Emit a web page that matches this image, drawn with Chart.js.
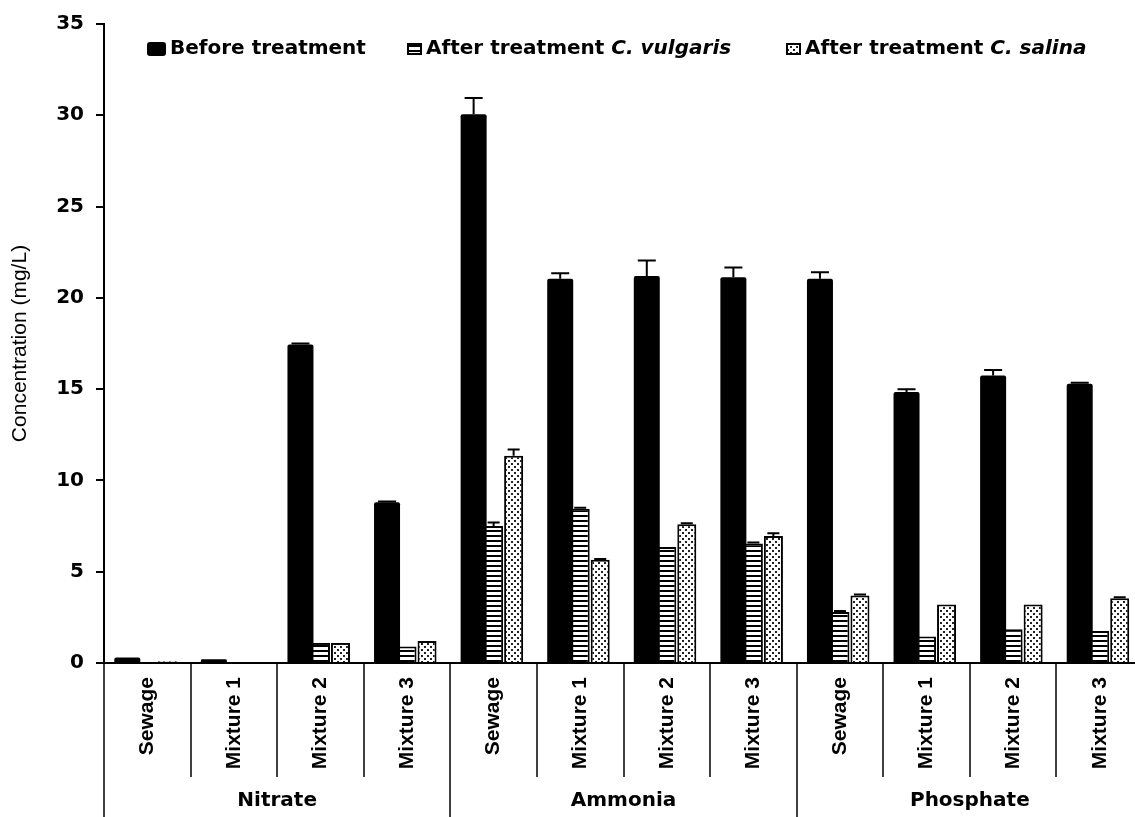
<!DOCTYPE html>
<html>
<head>
<meta charset="utf-8">
<script src="https://cdn.jsdelivr.net/npm/chart.js@4.4.1/dist/chart.umd.min.js"></script>
<style>
  html, body { margin: 0; padding: 0; background: #fff; overflow: hidden; }
  #wrap { width: 1135px; height: 817px; overflow: hidden; }
</style>
</head>
<body>
<div id="wrap"><canvas id="chart" width="1143" height="817"></canvas></div>
<script>
const categories = ['Sewage', 'Mixture 1', 'Mixture 2', 'Mixture 3',
                    'Sewage', 'Mixture 1', 'Mixture 2', 'Mixture 3',
                    'Sewage', 'Mixture 1', 'Mixture 2', 'Mixture 3'];
const groups = ['Nitrate', 'Ammonia', 'Phosphate'];

const seriesNames = ['Before treatment', 'After treatment', 'After treatment'];
const seriesSpecies = ['', 'C. vulgaris', 'C. salina'];

const before      = [0.3, 0.2, 17.45, 8.8, 30.05, 21.05, 21.2, 21.13, 21.05, 14.85, 15.75, 15.3];
const beforeErr   = [0, 0, 0.05, 0.05, 0.9, 0.3, 0.85, 0.53, 0.35, 0.15, 0.3, 0.05];
const vulgaris    = [0, 0, 1.1, 0.9, 7.5, 8.45, 6.35, 6.55, 2.8, 1.45, 1.85, 1.75];
const vulgarisErr = [0, 0, 0, 0, 0.2, 0.05, 0, 0.05, 0.05, 0, 0, 0];
const salina      = [0.1, 0, 1.1, 1.2, 11.35, 5.65, 7.6, 6.95, 3.7, 3.2, 3.2, 3.55];
const salinaErr   = [0, 0, 0, 0, 0.35, 0.05, 0.05, 0.15, 0.05, 0, 0, 0.05];

const yMin = 0, yMax = 35, yStep = 5;

const boldFont = "'DejaVu Sans', sans-serif";

function makePattern(kind) {
    const c = document.createElement('canvas');
    const g = c.getContext('2d');
    if (kind === 'stripes') {
        c.width = 6; c.height = 5;
        g.fillStyle = '#fff'; g.fillRect(0, 0, 6, 5);
        g.fillStyle = '#000'; g.fillRect(0, 0, 6, 2);
    } else {
        c.width = 6; c.height = 6;
        g.fillStyle = '#fff'; g.fillRect(0, 0, 6, 6);
        g.fillStyle = '#222';
        g.fillRect(1, 1, 2, 2);
        g.fillRect(4, 4, 2, 2);
    }
    return g.createPattern(c, 'repeat');
}

const stripes = makePattern('stripes');
const dots = makePattern('dots');
const fills = ['#000', stripes, dots];

// error bars (upper only, like the original)
const errorBars = {
    id: 'errorBars',
    afterDatasetsDraw(chart) {
        const ctx = chart.ctx;
        const y = chart.scales.y;
        ctx.save();
        ctx.strokeStyle = '#000';
        ctx.lineWidth = 2;
        chart.data.datasets.forEach((ds, di) => {
            const meta = chart.getDatasetMeta(di);
            meta.data.forEach((bar, i) => {
                const e = ds.errors[i];
                if (!e) return;
                const top = y.getPixelForValue(ds.data[i] + e);
                const half = Math.round(bar.width / 3);
                ctx.beginPath();
                ctx.moveTo(bar.x, bar.y);
                ctx.lineTo(bar.x, top);
                ctx.moveTo(bar.x - half, top);
                ctx.lineTo(bar.x + half, top);
                ctx.stroke();
            });
        });
        ctx.restore();
    }
};

// category separators and the group row below the axis
const groupAxis = {
    id: 'groupAxis',
    afterDraw(chart) {
        const ctx = chart.ctx;
        const area = chart.chartArea;
        const x = chart.scales.x;
        const n = categories.length;
        const per = n / groups.length;
        const step = (area.right - area.left) / n;
        ctx.save();
        ctx.strokeStyle = '#000';
        ctx.lineWidth = 1.5;
        for (let i = 0; i <= n; i++) {
            const px = Math.round(area.left + i * step);
            ctx.beginPath();
            ctx.moveTo(px, area.bottom);
            ctx.lineTo(px, i % per === 0 ? chart.height : area.bottom + 114);
            ctx.stroke();
        }
        ctx.fillStyle = '#000';
        ctx.font = 'bold 20px ' + boldFont;
        ctx.textAlign = 'center';
        ctx.textBaseline = 'middle';
        groups.forEach((g, gi) => {
            const cx = (x.getPixelForValue(gi * per) + x.getPixelForValue(gi * per + per - 1)) / 2;
            ctx.fillText(g, cx, 801);
        });
        ctx.restore();
    }
};

// legend with italic species names
const speciesLegend = {
    id: 'speciesLegend',
    afterDraw(chart) {
        const ctx = chart.ctx;
        const starts = [147, 407, 786];
        const yc = 49;
        ctx.save();
        ctx.textBaseline = 'middle';
        ctx.textAlign = 'left';
        seriesNames.forEach((name, i) => {
            let px = starts[i];
            if (i === 0) {
                ctx.fillStyle = '#000';
                ctx.beginPath();
                ctx.roundRect(px, yc - 7, 19, 14, 3);
                ctx.fill();
                px += 23;
            } else {
                ctx.fillStyle = fills[i];
                ctx.fillRect(px, yc - 6, 15, 12);
                ctx.strokeStyle = '#000';
                ctx.lineWidth = 2;
                ctx.strokeRect(px + 1, yc - 5, 13, 10);
                px += 19;
            }
            ctx.fillStyle = '#000';
            ctx.font = 'bold 20px ' + boldFont;
            const label = seriesSpecies[i] ? name + ' ' : name;
            ctx.fillText(label, px, yc);
            if (seriesSpecies[i]) {
                px += ctx.measureText(label).width;
                ctx.font = 'italic bold 20px ' + boldFont;
                ctx.fillText(seriesSpecies[i], px, yc);
            }
        });
        ctx.restore();
    }
};

const ctx = document.getElementById('chart').getContext('2d');
new Chart(ctx, {
    type: 'bar',
    data: {
        labels: categories,
        datasets: [{
            label: seriesNames[0],
            data: before,
            errors: beforeErr,
            backgroundColor: fills[0],
            borderWidth: 0,
            borderRadius: { topLeft: 2, topRight: 2 },
            barPercentage: 1.3,
            categoryPercentage: 0.693
        }, {
            label: seriesNames[1] + ' ' + seriesSpecies[1],
            data: vulgaris,
            errors: vulgarisErr,
            backgroundColor: fills[1],
            borderColor: '#000',
            borderWidth: 2,
            barPercentage: 0.95,
            categoryPercentage: 0.693
        }, {
            label: seriesNames[2] + ' ' + seriesSpecies[2],
            data: salina,
            errors: salinaErr,
            backgroundColor: fills[2],
            borderColor: '#000',
            borderWidth: 2,
            barPercentage: 0.95,
            categoryPercentage: 0.693
        }]
    },
    options: {
        responsive: false,
        animation: false,
        devicePixelRatio: 1,
        layout: { padding: { left: 0, right: 0, top: 22, bottom: 0 } },
        plugins: {
            legend: { display: false },
            tooltip: { enabled: false }
        },
        scales: {
            x: {
                grid: { display: false, drawTicks: false },
                border: { display: true, color: '#000', width: 2 },
                ticks: {
                    autoSkip: false,
                    maxRotation: 90,
                    minRotation: 90,
                    padding: 14,
                    color: '#000',
                    font: { family: "'Liberation Sans', Arial, sans-serif", size: 21, weight: 'bold' }
                },
                afterFit(scale) { scale.height = 154; }
            },
            y: {
                min: yMin,
                max: yMax,
                ticks: {
                    stepSize: yStep,
                    padding: 12,
                    color: '#000',
                    font: { family: boldFont, size: 20, weight: 'bold' }
                },
                grid: {
                    display: true,
                    drawOnChartArea: false,
                    drawTicks: true,
                    tickLength: 8,
                    color: '#000',
                    lineWidth: 2
                },
                border: { display: true, color: '#000', width: 2 },
                title: {
                    display: true,
                    text: 'Concentration (mg/L)',
                    color: '#000',
                    padding: { top: 8, bottom: 0 },
                    font: { family: "'Liberation Sans', Arial, sans-serif", size: 21 }
                },
                afterFit(scale) { scale.width = 104; }
            }
        }
    },
    plugins: [errorBars, groupAxis, speciesLegend]
});
</script>
</body>
</html>
